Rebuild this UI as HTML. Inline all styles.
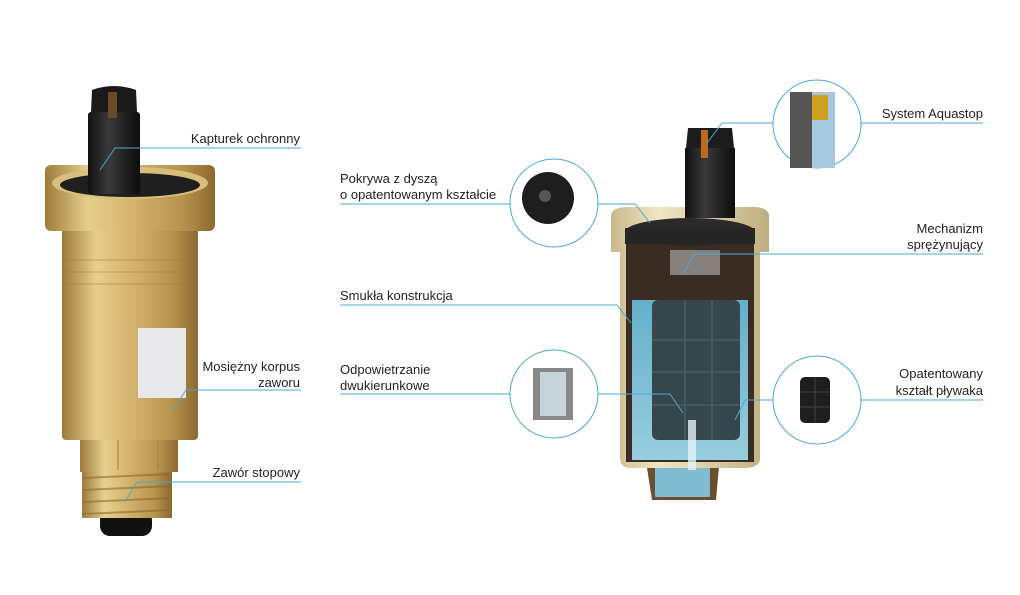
<!DOCTYPE html>
<html><head><meta charset="utf-8"><style>
html,body{margin:0;padding:0;background:#fff;}
svg{display:block}
text{font-family:"Liberation Sans","DejaVu Sans",sans-serif;font-size:13px;fill:#222;}
</style></head><body>
<svg width="1020" height="595" viewBox="0 0 1020 595" xmlns="http://www.w3.org/2000/svg">
<defs>
<linearGradient id="brass" x1="0" x2="1" y1="0" y2="0">
<stop offset="0" stop-color="#9c7a3a"/><stop offset="0.25" stop-color="#e6cf8e"/><stop offset="0.5" stop-color="#d4b46e"/><stop offset="0.8" stop-color="#b8944e"/><stop offset="1" stop-color="#8a6a30"/></linearGradient>
<linearGradient id="blk" x1="0" x2="1"><stop offset="0" stop-color="#111"/><stop offset="0.4" stop-color="#3a3a3a"/><stop offset="1" stop-color="#0c0c0c"/></linearGradient>
<linearGradient id="beige" x1="0" x2="1"><stop offset="0" stop-color="#c9b98a"/><stop offset="0.3" stop-color="#f0e6c4"/><stop offset="1" stop-color="#bfae80"/></linearGradient>
<linearGradient id="water" x1="0" x2="0" y1="0" y2="1"><stop offset="0" stop-color="#5aa7c4"/><stop offset="1" stop-color="#9fd0e0"/></linearGradient>
</defs>

<!-- LEFT VALVE -->
<rect x="100" y="510" width="52" height="26" rx="10" fill="#111"/>
<rect x="82" y="468" width="90" height="50" fill="url(#brass)"/>
<g stroke="#8a6a30" stroke-width="2" opacity="0.6">
<line x1="82" y1="478" x2="172" y2="474"/><line x1="82" y1="490" x2="172" y2="486"/><line x1="82" y1="502" x2="172" y2="498"/><line x1="82" y1="514" x2="172" y2="510"/></g>
<rect x="80" y="436" width="98" height="36" fill="url(#brass)"/>
<line x1="118" y1="440" x2="118" y2="470" stroke="#a0803c"/><line x1="158" y1="440" x2="158" y2="470" stroke="#a0803c"/>
<rect x="62" y="228" width="136" height="212" rx="4" fill="url(#brass)"/>
<rect x="62" y="248" width="136" height="48" fill="url(#brass)" opacity="0.9"/>
<g stroke="#9c7a3a" stroke-width="1" opacity="0.5">
<line x1="62" y1="272" x2="198" y2="272"/><line x1="62" y1="260" x2="198" y2="260"/><line x1="62" y1="284" x2="198" y2="284"/></g>
<rect x="138" y="328" width="48" height="70" fill="#e8e8ec"/>
<rect x="45" y="165" width="170" height="66" rx="6" fill="url(#brass)"/>
<ellipse cx="130" cy="183" rx="78" ry="16" fill="#d9bf7a"/>
<ellipse cx="130" cy="185" rx="70" ry="12" fill="#1f1f1f"/>
<rect x="88" y="112" width="52" height="82" rx="3" fill="url(#blk)"/>
<path d="M91 112 L92 90 Q114 82 136 90 L137 112 Z" fill="#1a1a1a"/>
<rect x="108" y="92" width="9" height="26" fill="#6a4a2a"/>

<!-- left labels -->
<g stroke="#4aa8d8" stroke-width="1" fill="none">
<polyline points="100,170 115,148 301,148"/>
<polyline points="173,410 186,390 301,390"/>
<polyline points="125,502 137,482 301,482"/>
</g>
<text x="300" y="143" text-anchor="end">Kapturek ochronny</text>
<text x="300" y="371" text-anchor="end">Mosiężny korpus</text>
<text x="300" y="387" text-anchor="end">zaworu</text>
<text x="300" y="477" text-anchor="end">Zawór stopowy</text>

<!-- RIGHT CUTAWAY -->
<path d="M645 455 L720 455 L716 500 L652 500 Z" fill="#6a5030"/>
<rect x="655" y="455" width="55" height="42" fill="#7fbcd2"/>
<path d="M611 216 Q611 208 625 207 L755 207 Q769 208 769 216 L769 252 L760 252 L760 460 Q758 468 745 468 L630 468 Q622 468 620 460 L620 252 L611 252 Z" fill="url(#beige)"/>
<rect x="626" y="240" width="128" height="222" fill="#3a2c22"/>
<rect x="632" y="300" width="116" height="160" fill="url(#water)"/>
<rect x="652" y="300" width="88" height="140" rx="6" fill="#1c1c1c"/>
<g stroke="#3a3a3a" stroke-width="1.5"><line x1="652" y1="340" x2="740" y2="340"/><line x1="652" y1="372" x2="740" y2="372"/><line x1="652" y1="405" x2="740" y2="405"/><line x1="685" y1="300" x2="685" y2="440"/><line x1="712" y1="300" x2="712" y2="440"/></g>
<rect x="632" y="300" width="116" height="160" fill="#7fc6dc" opacity="0.25"/>
<rect x="688" y="420" width="8" height="50" fill="#e6f2f6" opacity="0.8"/>
<ellipse cx="690" cy="232" rx="65" ry="14" fill="#2a2a2a"/>
<rect x="625" y="228" width="130" height="16" fill="#262626"/>
<rect x="670" y="250" width="50" height="25" fill="#bbb" opacity="0.6"/>
<rect x="685" y="148" width="50" height="70" fill="url(#blk)"/>
<path d="M686 148 L688 128 L732 128 L734 148 Z" fill="#1c1c1c"/>
<rect x="701" y="130" width="7" height="28" fill="#b96a1a"/>

<!-- circles -->
<g fill="#fff" stroke="#4aa8d8" stroke-width="1">
<circle cx="817" cy="124" r="44"/>
<circle cx="554" cy="203" r="44"/>
<circle cx="554" cy="394" r="44"/>
<circle cx="817" cy="400" r="44"/>
</g>
<!-- circle contents -->
<rect x="790" y="92" width="45" height="76" fill="#555"/>
<rect x="812" y="92" width="23" height="76" fill="#a7c8dc"/>
<rect x="812" y="95" width="16" height="25" fill="#d0a020"/>
<circle cx="548" cy="198" r="26" fill="#1e1e1e"/>
<circle cx="545" cy="196" r="6" fill="#555"/>
<rect x="533" y="368" width="40" height="52" fill="#888"/>
<rect x="540" y="372" width="26" height="44" fill="#c8d4dc"/>
<rect x="800" y="377" width="30" height="46" rx="5" fill="#1e1e1e"/>
<g stroke="#444"><line x1="800" y1="392" x2="830" y2="392"/><line x1="800" y1="407" x2="830" y2="407"/><line x1="815" y1="377" x2="815" y2="423"/></g>

<!-- right lines -->
<g stroke="#4aa8d8" stroke-width="1" fill="none">
<polyline points="707,143 722,123 773,123"/>
<line x1="861" y1="123" x2="983" y2="123"/>
<line x1="340" y1="204" x2="510" y2="204"/>
<polyline points="598,204 635,204 650,223"/>
<polyline points="684,273 694,254 983,254"/>
<polyline points="340,305 617,305 631,323"/>
<line x1="340" y1="394" x2="510" y2="394"/>
<polyline points="598,394 670,394 683,413"/>
<line x1="861" y1="400" x2="983" y2="400"/>
<polyline points="773,400 745,400 735,420"/>
</g>
<text x="983" y="118" text-anchor="end">System Aquastop</text>
<text x="340" y="183">Pokrywa z dyszą</text>
<text x="340" y="199">o opatentowanym kształcie</text>
<text x="983" y="233" text-anchor="end">Mechanizm</text>
<text x="983" y="249" text-anchor="end">sprężynujący</text>
<text x="340" y="300">Smukła konstrukcja</text>
<text x="340" y="374">Odpowietrzanie</text>
<text x="340" y="390">dwukierunkowe</text>
<text x="983" y="378" text-anchor="end">Opatentowany</text>
<text x="983" y="395" text-anchor="end">kształt pływaka</text>
</svg>
</body></html>
